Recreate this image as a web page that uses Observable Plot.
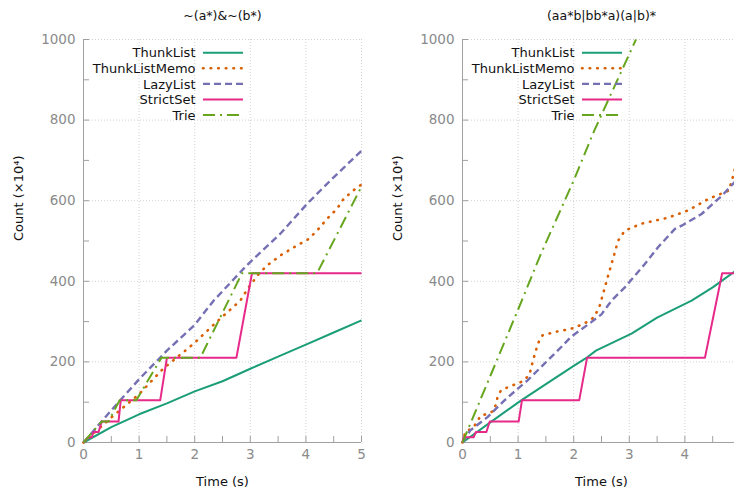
<!DOCTYPE html>
<html><head><meta charset="utf-8">
<script src="https://cdn.jsdelivr.net/npm/d3@7"></script>
<script src="https://cdn.jsdelivr.net/npm/@observablehq/plot@0.6"></script>
<style>
body{margin:0;background:#fff;font-family:"DejaVu Sans",sans-serif;}
#wrap{display:flex;width:734px;height:492px;overflow:hidden;background:#fff}
#wrap svg{flex:none;display:block;max-width:none}
</style></head><body><div id="wrap"></div>
<script>
const seriesNames = ["ThunkList","ThunkListMemo","LazyList","StrictSet","Trie"];
const seriesColors = ["#1b9e77","#d95f02","#7570b3","#e7298a","#66a61e"];
const seriesDash = [null,"0.6,7","7,4",null,"12,5,2,5"];
const seriesCap = ["butt","round","butt","butt","butt"];
const seriesWidth = [2,2.6,2.4,2,2];
const panelTitles = ["~(a*)&~(b*)","(aa*b|bb*a)(a|b)*"];
const xLabel = "Time (s)";
const yLabel = "Count (×10⁴)";
const xMajor = [0,1,2,3,4,5];
const xMinor = [0.5,1.5,2.5,3.5,4.5];
const yMajor = [0,200,400,600,800,1000];
const yMinor = [100,300,500,700,900];

// Left panel: ~(a*)&~(b*)   [time (s), count (x10^4)]
const L_ThunkList = [[0,0],[0.5,38],[1,70],[1.5,97],[2,127],[2.5,152],[3,183],[3.5,213],[4,243],[4.5,273],[5,303]];
const L_ThunkListMemo = [[0,0],[0.5,62],[1,120],[1.44,184],[1.98,245],[2.4,300],[2.82,352],[2.97,385],[3.15,418],[3.3,439],[3.54,464],[3.84,489],[4.05,505],[4.2,526],[4.38,555],[4.56,580],[4.68,605],[4.92,633],[5,640]];
const L_LazyList = [[0,0],[0.25,40],[0.5,80],[1,157],[1.5,228],[2,292],[2.34,352],[2.94,440],[3.54,518],[4.02,592],[4.44,650],[5,724]];
const L_StrictSet = [[0,0],[0.09,13],[0.15,13],[0.18,26],[0.27,26],[0.33,52],[0.63,52],[0.67,105],[1.38,105],[1.5,210],[2.75,210],[3.03,420],[5,420]];
const L_Trie = [[0,0],[0.17,28],[0.33,52],[0.45,52],[0.65,105],[0.95,105],[1.4,210],[2.1,210],[2.85,420],[4.2,420],[5,635]];

// Right panel: (aa*b|bb*a)(a|b)*
const R_ThunkList = [[0,0],[0.5,50],[1.05,104],[1.5,145],[2,190],[2.25,212],[2.4,228],[2.7,248],[3.04,270],[3.5,310],[4.12,352],[4.5,385],[4.92,427]];
const R_ThunkListMemo = [[0,0],[0.05,26],[0.2,38],[0.33,67],[0.45,71],[0.57,79],[0.63,112],[0.69,129],[0.81,137],[1.05,150],[1.2,166],[1.26,199],[1.32,228],[1.38,253],[1.44,266],[1.65,274],[1.95,282],[2.19,295],[2.37,311],[2.47,340],[2.56,385],[2.68,443],[2.8,501],[2.92,526],[3.22,543],[3.7,558],[4.06,576],[4.43,605],[4.79,625],[4.88,667],[4.92,692]];
const R_LazyList = [[0,0],[0.14,30],[0.45,63],[0.75,104],[0.99,133],[1.17,154],[1.47,195],[1.77,236],[1.95,262],[2.31,298],[2.5,318],[2.68,352],[2.92,385],[3.28,443],[3.52,485],[3.82,530],[3.94,538],[4.3,567],[4.67,613],[4.92,650]];
const R_StrictSet = [[0,0],[0.02,13],[0.2,13],[0.24,26],[0.43,26],[0.49,52],[1.01,52],[1.07,105],[2.1,105],[2.24,210],[4.36,210],[4.67,420],[4.92,420]];
const R_Trie = [[0,0],[0.5,165],[1,330],[1.41,468],[2,650],[2.37,774],[3.12,1000]];

const panels = [
  {title: panelTitles[0], series: [L_ThunkList,L_ThunkListMemo,L_LazyList,L_StrictSet,L_Trie], ml: 83, width: 367, xLabels: xMajor},
  {title: panelTitles[1], series: [R_ThunkList,R_ThunkListMemo,R_LazyList,R_StrictSet,R_Trie], ml: 95, width: 379, xLabels: xMajor.filter(v => v < 5)}
];

const MT = 39, MB = 50, MR = 6;
const axisGray = "#a0a0a0", labelGray = "#8a8a8a", gridGray = "#d0d0d0";

for (const p of panels) {
  const legendRows = seriesNames.map((n,i) => Plot.text([n], {
    text: d => d, frameAnchor: "top-left", dx: 112, dy: 13.7 + 15.6*i,
    textAnchor: "end", lineAnchor: "middle", fontSize: 13, fill: "#111"
  }));
  const svg = Plot.plot({
    width: p.width, height: 492,
    marginTop: MT, marginBottom: MB, marginLeft: p.ml, marginRight: MR,
    style: {fontFamily: "DejaVu Sans", fontSize: "13px", background: "white"},
    x: {domain: [0,5]},
    y: {domain: [0,1000]},
    marks: [
      Plot.gridX(xMajor.filter(v => v > 0), {stroke: gridGray, strokeOpacity: 1, strokeDasharray: "1,2"}),
      Plot.gridY(yMajor.filter(v => v > 0), {stroke: gridGray, strokeOpacity: 1, strokeDasharray: "1,2"}),
      Plot.axisX(xMajor.concat(xMinor), {tickSize: -6, tickFormat: () => "", stroke: axisGray, label: null}),
      Plot.axisY(yMajor.concat(yMinor), {tickSize: -6, tickFormat: () => "", stroke: axisGray, label: null}),
      Plot.axisX(p.xLabels, {tickSize: 0, tickPadding: 7, tickFormat: d => String(d), fill: labelGray, fontSize: 13.5, label: null}),
      Plot.axisY(yMajor, {tickSize: 0, tickPadding: 8, tickFormat: d => String(d), fill: labelGray, fontSize: 13.5, label: null}),
      Plot.ruleX([0], {stroke: axisGray}),
      Plot.ruleY([0], {stroke: axisGray}),
      ...p.series.map((s,i) => Plot.line(s, {
        x: d => d[0], y: d => d[1], stroke: seriesColors[i], strokeWidth: seriesWidth[i],
        strokeDasharray: seriesDash[i], strokeLinecap: seriesCap[i], strokeLinejoin: "round"
      })),
      Plot.text([p.title], {text: d => d, frameAnchor: "top", dy: -24, lineAnchor: "middle", fontSize: 12.5, fill: "#111"}),
      Plot.text([xLabel], {text: d => d, frameAnchor: "bottom", dy: 39, lineAnchor: "middle", fontSize: 13, fill: "#111"}),
      Plot.text([yLabel], {text: d => d, frameAnchor: "left", dx: -65, rotate: -90, lineAnchor: "middle", fontSize: 13, fill: "#111"}),
      ...legendRows
    ]
  });
  // legend line samples
  const g = d3.select(svg).append("g");
  seriesNames.forEach((n,i) => {
    const y = MT + 13.7 + 15.6*i;
    g.append("line")
      .attr("x1", p.ml + 120).attr("x2", p.ml + 160)
      .attr("y1", y).attr("y2", y)
      .attr("stroke", seriesColors[i]).attr("stroke-width", seriesWidth[i])
      .attr("stroke-linecap", seriesCap[i])
      .attr("stroke-dasharray", seriesDash[i]);
  });
  document.getElementById("wrap").appendChild(svg);
}
</script></body></html>
